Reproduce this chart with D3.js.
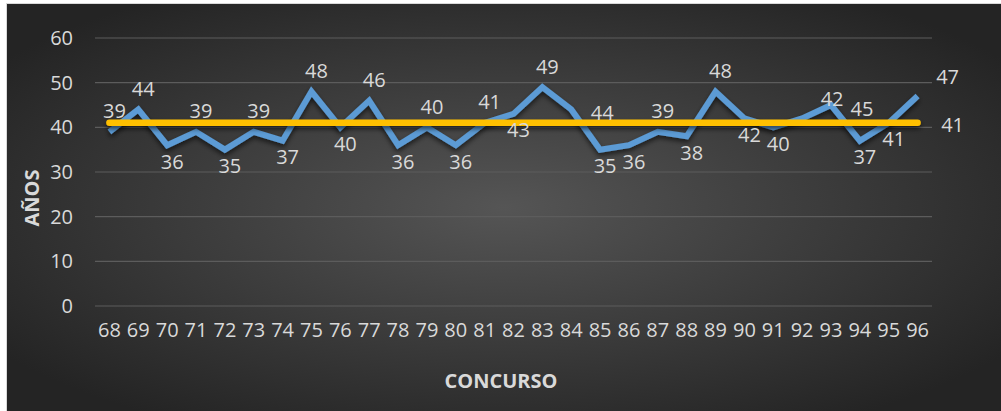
<!DOCTYPE html>
<html>
<head>
<meta charset="utf-8">
<script src="https://cdn.jsdelivr.net/npm/d3@7"></script>
<style>
  body { margin: 0; background: #fff; }
  #chart { width: 1001px; height: 411px; }
  text { font-family: "Open Sans", sans-serif; }
</style>
</head>
<body>
<div id="chart"></div>
<script>
// Concursos y edades
var concursos = ["68","69","70","71","72","73","74","75","76","77","78","79","80","81","82",
                 "83","84","85","86","87","88","89","90","91","92","93","94","95","96"];
var edades = [39,44,36,39,35,39,37,48,40,46,36,40,36,41,43,49,44,35,36,39,38,48,42,40,42,45,37,41,47];
var yTicks = [0,10,20,30,40,50,60];
// where each data label sits relative to its point
var labelPlace = ["t","t","b","t","b","t","b","t","b","t","b","t","b","t","b",
                  "t","r","b","b","t","b","t","b","b","tr","r","b","b","tr"];

var width = 1001, height = 411;
var promedio = Math.round(d3.mean(edades));

var svg = d3.select("#chart").append("svg")
    .attr("width", width)
    .attr("height", height);

var defs = svg.append("defs");
var grad = defs.append("radialGradient")
    .attr("id", "bg")
    .attr("cx", "50%").attr("cy", "50%")
    .attr("r", "62%")
    .attr("gradientUnits", "objectBoundingBox");
grad.append("stop").attr("offset", "0%").attr("stop-color", "#555555");
grad.append("stop").attr("offset", "100%").attr("stop-color", "#242424");

// shadow filter in user space so a flat line still gets it
var shadow = defs.append("filter").attr("id", "shadow")
    .attr("filterUnits", "userSpaceOnUse")
    .attr("x", 0).attr("y", 0).attr("width", width).attr("height", height);
shadow.append("feDropShadow")
    .attr("dx", 0).attr("dy", 3)
    .attr("stdDeviation", 2.5)
    .attr("flood-color", "#000")
    .attr("flood-opacity", 0.6);

// chart area background
svg.append("rect")
    .attr("x", 6.5).attr("y", 3.5)
    .attr("width", width - 6).attr("height", height - 3)
    .attr("fill", "url(#bg)")
    .attr("stroke", "#d9d9d9");

// scales
var x = d3.scaleBand()
    .domain(concursos)
    .range([95, 932]);

var y = d3.scaleLinear()
    .domain([0, 60])
    .range([306, 38]);

// gridlines
svg.append("g")
    .selectAll("line")
    .data(yTicks)
    .enter()
    .append("line")
    .attr("x1", 95).attr("x2", 932)
    .attr("y1", d => y(d)).attr("y2", d => y(d))
    .attr("stroke", "#5c5c5c")
    .attr("stroke-width", 1.2);

// y axis
var yAxis = d3.axisLeft(y).tickValues(yTicks).tickSize(0).tickPadding(0);
var yG = svg.append("g")
    .attr("transform", "translate(73,0)")
    .call(yAxis);
yG.select(".domain").remove();
yG.selectAll("text")
    .attr("fill", "#d9d9d9")
    .attr("font-size", 20);

// x axis
var xAxis = d3.axisBottom(x).tickSize(0).tickPadding(0);
var xG = svg.append("g")
    .attr("transform", "translate(0,322)")
    .call(xAxis);
xG.select(".domain").remove();
xG.selectAll("text")
    .attr("fill", "#d9d9d9")
    .attr("font-size", 20)
    .attr("dy", "0.75em");

// axis titles
svg.append("text")
    .text("AÑOS")
    .attr("transform", "translate(31,198) rotate(-90)")
    .attr("text-anchor", "middle")
    .attr("dominant-baseline", "central")
    .attr("font-weight", "bold")
    .attr("font-size", 20)
    .attr("fill", "#d9d9d9");

svg.append("text")
    .text("CONCURSO")
    .attr("x", 501).attr("y", 380)
    .attr("text-anchor", "middle")
    .attr("dominant-baseline", "central")
    .attr("font-weight", "bold")
    .attr("font-size", 20)
    .attr("fill", "#d9d9d9");

// blue line
var cx = d => x(d) + x.bandwidth() / 2;
var line = d3.line()
    .x((d, i) => cx(concursos[i]))
    .y(d => y(d));

svg.append("path")
    .datum(edades)
    .attr("d", line)
    .attr("fill", "none")
    .attr("stroke", "#5b9bd5")
    .attr("stroke-width", 6)
    .attr("stroke-linejoin", "miter")
    .attr("filter", "url(#shadow)");

// average line
svg.append("line")
    .attr("x1", cx(concursos[0]))
    .attr("x2", cx(concursos[concursos.length - 1]))
    .attr("y1", y(promedio)).attr("y2", y(promedio))
    .attr("stroke", "#ffc000")
    .attr("stroke-width", 6.5)
    .attr("stroke-linecap", "round")
    .attr("filter", "url(#shadow)");

// data labels
var offs = { t: [5, -21], b: [5, 16], r: [31, 3], tr: [30, -20] };
svg.append("g")
    .selectAll("text")
    .data(edades)
    .enter()
    .append("text")
    .text(d => d)
    .attr("x", (d, i) => cx(concursos[i]) + offs[labelPlace[i]][0])
    .attr("y", (d, i) => y(d) + offs[labelPlace[i]][1])
    .attr("text-anchor", "middle")
    .attr("dominant-baseline", "central")
    .attr("font-size", 20)
    .attr("fill", "#d9d9d9");

svg.append("text")
    .text(promedio)
    .attr("x", cx(concursos[concursos.length - 1]) + 35)
    .attr("y", y(promedio) + 2)
    .attr("text-anchor", "middle")
    .attr("dominant-baseline", "central")
    .attr("font-size", 20)
    .attr("fill", "#d9d9d9");
</script>
</body>
</html>
